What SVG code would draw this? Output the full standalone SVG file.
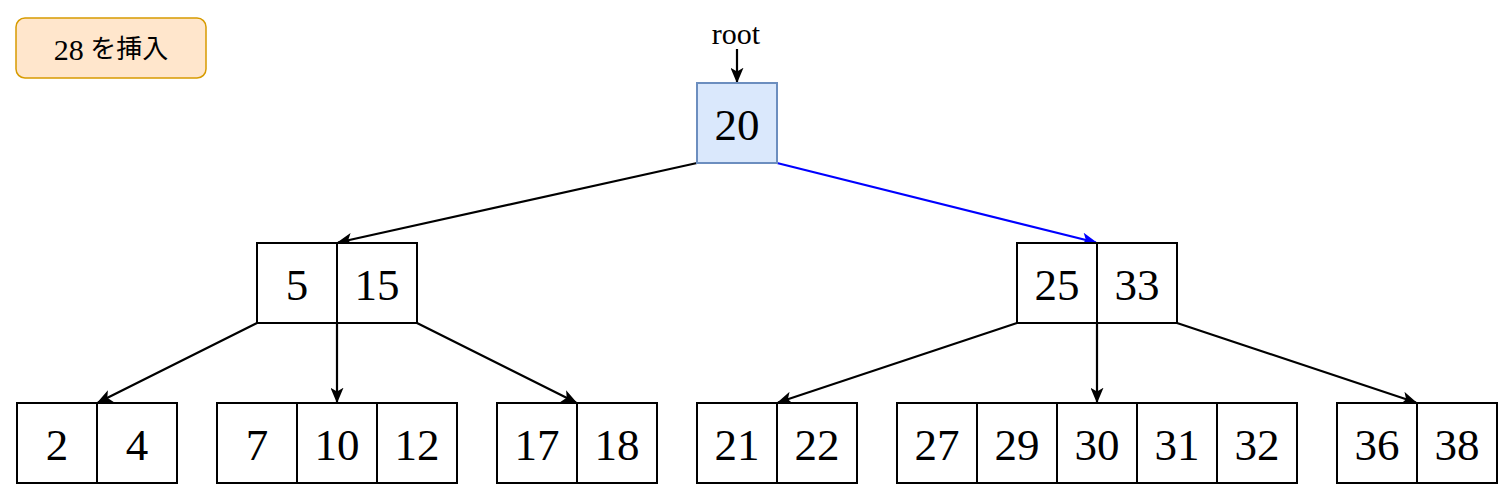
<svg xmlns="http://www.w3.org/2000/svg" width="1512" height="499" viewBox="0 0 1512 499">
<style>
.cell{fill:#ffffff;stroke:#000000;stroke-width:2}
.num{font-family:"Liberation Serif","Noto Serif",serif;font-size:45px;fill:#000;text-anchor:middle;dominant-baseline:central}
.edge{stroke:#000;stroke-width:2.2;fill:none;marker-end:url(#ah)}
.blue{stroke:#0000ff;stroke-width:2.2;fill:none;marker-end:url(#ahb)}
</style>
<defs>
<marker id="ah" viewBox="0 0 12 10" refX="11" refY="5" markerWidth="16" markerHeight="13" orient="auto" markerUnits="userSpaceOnUse">
<path d="M0,0 L12,5 L0,10 L3,5 Z" fill="#000"/>
</marker>
<marker id="ahb" viewBox="0 0 12 10" refX="11" refY="5" markerWidth="16" markerHeight="13" orient="auto" markerUnits="userSpaceOnUse">
<path d="M0,0 L12,5 L0,10 L3,5 Z" fill="#0000ff"/>
</marker>
</defs>
<rect width="1512" height="499" fill="#ffffff"/>
<g id="label">
<rect x="16" y="18" width="190" height="60" rx="9" fill="#ffe6cc" stroke="#d79b00" stroke-width="1.5"/>
<text x="111" y="49" font-family="'Liberation Serif','Noto Sans CJK JP',serif" font-size="26" text-anchor="middle" dominant-baseline="central"><tspan font-size="30">28</tspan> を挿入</text>
</g>
<g id="root-label">
<text x="736" y="33" font-family="'Liberation Serif',serif" font-size="30" text-anchor="middle" dominant-baseline="central">root</text>
</g>
<g id="connectors">
<line x1="737" y1="49" x2="737" y2="82" class="edge"/>
<line x1="697" y1="163" x2="338" y2="242.5" class="edge"/>
<line x1="777" y1="163" x2="1096" y2="242.5" class="blue"/>
<line x1="257" y1="323" x2="98" y2="402.5" class="edge"/>
<line x1="337" y1="323" x2="337" y2="402" class="edge"/>
<line x1="417" y1="323" x2="576" y2="402.5" class="edge"/>
<line x1="1017" y1="323" x2="778" y2="402.5" class="edge"/>
<line x1="1097" y1="323" x2="1097" y2="402" class="edge"/>
<line x1="1177" y1="323" x2="1416" y2="402.5" class="edge"/>
</g>
<g id="node-root">
<rect x="697" y="83" width="80" height="80" fill="#dae8fc" stroke="#6c8ebf" stroke-width="2"/>
<text x="737" y="125" class="num">20</text>
</g>
<g id="node-5-15">
<rect x="257" y="243" width="80" height="80" class="cell"/><rect x="337" y="243" width="80" height="80" class="cell"/>
<text x="297" y="285" class="num">5</text><text x="377" y="285" class="num">15</text>
</g>
<g id="node-25-33">
<rect x="1017" y="243" width="80" height="80" class="cell"/><rect x="1097" y="243" width="80" height="80" class="cell"/>
<text x="1057" y="285" class="num">25</text><text x="1137" y="285" class="num">33</text>
</g>
<g id="node-2-4">
<rect x="17" y="403" width="80" height="80" class="cell"/><rect x="97" y="403" width="80" height="80" class="cell"/>
<text x="57" y="445" class="num">2</text><text x="137" y="445" class="num">4</text>
</g>
<g id="node-7-10-12">
<rect x="217" y="403" width="80" height="80" class="cell"/><rect x="297" y="403" width="80" height="80" class="cell"/><rect x="377" y="403" width="80" height="80" class="cell"/>
<text x="257" y="445" class="num">7</text><text x="337" y="445" class="num">10</text><text x="417" y="445" class="num">12</text>
</g>
<g id="node-17-18">
<rect x="497" y="403" width="80" height="80" class="cell"/><rect x="577" y="403" width="80" height="80" class="cell"/>
<text x="537" y="445" class="num">17</text><text x="617" y="445" class="num">18</text>
</g>
<g id="node-21-22">
<rect x="697" y="403" width="80" height="80" class="cell"/><rect x="777" y="403" width="80" height="80" class="cell"/>
<text x="737" y="445" class="num">21</text><text x="817" y="445" class="num">22</text>
</g>
<g id="node-27-32">
<rect x="897" y="403" width="80" height="80" class="cell"/><rect x="977" y="403" width="80" height="80" class="cell"/><rect x="1057" y="403" width="80" height="80" class="cell"/><rect x="1137" y="403" width="80" height="80" class="cell"/><rect x="1217" y="403" width="80" height="80" class="cell"/>
<text x="937" y="445" class="num">27</text><text x="1017" y="445" class="num">29</text><text x="1097" y="445" class="num">30</text><text x="1177" y="445" class="num">31</text><text x="1257" y="445" class="num">32</text>
</g>
<g id="node-36-38">
<rect x="1337" y="403" width="80" height="80" class="cell"/><rect x="1417" y="403" width="80" height="80" class="cell"/>
<text x="1377" y="445" class="num">36</text><text x="1457" y="445" class="num">38</text>
</g>
</svg>
